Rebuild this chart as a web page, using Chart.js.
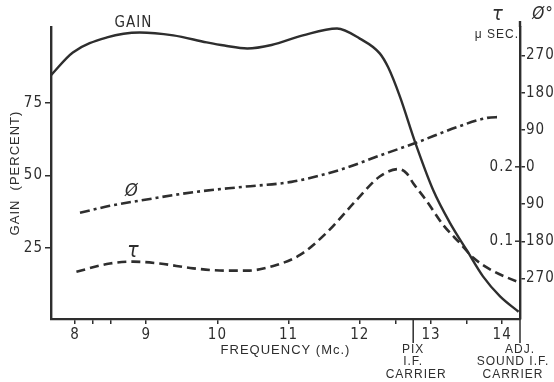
<!DOCTYPE html>
<html><head><meta charset="utf-8">
<script src="https://cdn.jsdelivr.net/npm/chart.js@4/dist/chart.umd.min.js"></script>
<style>html,body{margin:0;padding:0;background:#fff}#wrap{width:554px;height:382px}</style>
</head><body><div id="wrap"><canvas id="c" width="554" height="382"></canvas></div>
<script>
// ---- data ----
const gainFreq    = [7.66, 7.97, 8.45, 8.91, 9.38, 9.85, 10.1, 10.42, 10.76, 11.2, 11.68, 12.0, 12.28, 12.4, 12.565, 12.775, 13.03, 13.27, 13.5, 13.73, 13.97, 14.23];
const gainPercent = [84.5, 92.4, 97.6, 99.3, 98.3, 95.9, 94.8, 93.8, 95.0, 98.3, 100.7, 97.2, 92.1, 87.2, 77.1, 61.6, 45.0, 33.5, 24.3, 15.2, 8.3, 3.0];

const phaseFreq = [8.07, 8.49, 8.96, 9.66, 10.36, 11.04, 11.72, 12.3, 12.78, 13.37, 13.79, 13.97];
const phaseDeg  = [-111, -94, -80, -61, -48, -36, -7, 29, 58, 97, 119, 121];

const tauFreq = [8.02, 8.49, 8.82, 9.19, 9.66, 10.13, 10.41, 10.83, 11.16, 11.53, 11.96, 12.28, 12.55, 12.66, 12.75, 12.94, 13.17, 13.41, 13.59, 13.87, 14.25];
const tauUsec = [0.059, 0.070, 0.0725, 0.070, 0.0635, 0.0604, 0.0604, 0.068, 0.0815, 0.111, 0.156, 0.187, 0.197, 0.191, 0.178, 0.154, 0.122, 0.097, 0.078, 0.060, 0.044];

const xTickValues     = [8, 8.25, 8.5, 9, 10, 11, 12, 12.5, 13, 13.5, 14];
const gainTickValues  = [25, 50, 75];
const phaseTickValues = [-270, -180, -90, 0, 90, 180, 270];
const tauTickValues   = [0.1, 0.2];
const pixCarrier = 12.75;
const adjSoundCarrier = 14.25;

const INK = '#2e2e2e';
const FONT = "'Liberation Sans Narrow', 'DejaVu Sans Condensed', 'Liberation Sans', sans-serif";
const FONT_W = "'Liberation Sans', 'DejaVu Sans', sans-serif";

const pairs = (xs, ys) => xs.map((x, i) => ({x, y: ys[i]}));

const spacing = {
  id: 'spacing',
  beforeDraw(chart) { chart.ctx.letterSpacing = '1px'; }
};

const annot = {
  id: 'annot',
  afterDraw(chart) {
    const {ctx, chartArea, scales} = chart;
    const x = scales.x, yG = scales.y, yP = scales.yPhase, yT = scales.yTau;
    ctx.save();
    ctx.strokeStyle = INK; ctx.fillStyle = INK; ctx.lineWidth = 2.4;
    // right axis extends a little above the plot
    ctx.beginPath(); ctx.moveTo(chartArea.right, chartArea.top); ctx.lineTo(chartArea.right, chartArea.top - 6); ctx.stroke();
    // carrier markers
    ctx.lineWidth = 1.5;
    [pixCarrier, adjSoundCarrier].forEach(f => {
      const px = x.getPixelForValue(f);
      ctx.beginPath(); ctx.moveTo(px, chartArea.bottom); ctx.lineTo(px, chartArea.bottom + 24); ctx.stroke();
    });
    // tau ticks (inner side of the right axis)
    tauTickValues.forEach(v => {
      const py = yT.getPixelForValue(v);
      ctx.beginPath(); ctx.moveTo(chartArea.right - 5, py); ctx.lineTo(chartArea.right, py); ctx.stroke();
    });
    ctx.letterSpacing = '1px';
    ctx.textAlign = 'center'; ctx.textBaseline = 'middle';
    ctx.font = '15px ' + FONT;
    ctx.fillText('GAIN', x.getPixelForValue(8.82), yG.getPixelForValue(102.6));
    ctx.font = 'italic 18px ' + FONT;
    ctx.fillText('Ø', x.getPixelForValue(8.8), yP.getPixelForValue(-60));
    ctx.font = 'italic 21px ' + FONT;
    ctx.fillText('τ', x.getPixelForValue(8.82), yT.getPixelForValue(0.086));
    // right axis headers
    ctx.font = 'italic 20px ' + FONT;
    ctx.fillText('τ', chartArea.right - 22, 15);
    ctx.font = 'italic 17px ' + FONT;
    ctx.fillText('Ø°', chartArea.right + 23, 15);
    ctx.font = '12px ' + FONT_W;
    ctx.textAlign = 'right';
    ctx.fillText('μ SEC.', chartArea.right - 1, 35);
    // carrier labels
    ctx.textAlign = 'center';
    ctx.font = '12px ' + FONT_W;
    const px1 = x.getPixelForValue(pixCarrier);
    ctx.fillText('PIX', px1, 350);
    ctx.fillText('I.F.', px1, 362);
    ctx.fillText('CARRIER', px1 + 3, 375);
    const px2 = x.getPixelForValue(adjSoundCarrier);
    ctx.fillText('ADJ.', px2, 350);
    ctx.fillText('SOUND I.F.', px2 - 7, 362);
    ctx.fillText('CARRIER', px2 - 7, 375);
    ctx.restore();
  }
};

new Chart(document.getElementById('c'), {
  type: 'line',
  data: {
    datasets: [
      { label: 'GAIN', data: pairs(gainFreq, gainPercent), yAxisID: 'y',
        borderColor: INK, borderWidth: 2.4, pointRadius: 0, cubicInterpolationMode: 'monotone', fill: false },
      { label: 'Ø', data: pairs(phaseFreq, phaseDeg), yAxisID: 'yPhase',
        borderColor: INK, borderWidth: 2.6, borderDash: [10, 4, 3, 4], pointRadius: 0, cubicInterpolationMode: 'monotone', fill: false },
      { label: 'τ', data: pairs(tauFreq, tauUsec), yAxisID: 'yTau',
        borderColor: INK, borderWidth: 2.6, borderDash: [9, 5], pointRadius: 0, cubicInterpolationMode: 'monotone', fill: false }
    ]
  },
  options: {
    responsive: false, animation: false, devicePixelRatio: 1,
    layout: { padding: { top: 27, left: 0, right: 0, bottom: 0 } },
    plugins: { legend: { display: false }, tooltip: { enabled: false } },
    scales: {
      x: {
        type: 'linear', position: 'bottom', min: 7.663, max: 14.25,
        afterBuildTicks: s => { s.ticks = xTickValues.map(v => ({value: v})); },
        afterFit: s => { s.height = 63; },
        grid: { drawOnChartArea: false, drawTicks: true, tickLength: 5, color: INK, lineWidth: 1.5 },
        border: { display: true, color: INK, width: 2.2 },
        ticks: { autoSkip: false, maxRotation: 0, padding: 2, color: INK, font: { family: FONT, size: 15 },
                 callback: v => Number.isInteger(v) ? String(v) : '' },
        title: { display: true, text: 'FREQUENCY (Mc.)', color: INK, font: { family: FONT_W, size: 13 }, padding: { top: 0, bottom: 24 } }
      },
      y: {
        position: 'left', min: 0.5, max: 101.2,
        afterBuildTicks: s => { s.ticks = gainTickValues.map(v => ({value: v})); },
        afterFit: s => { s.width = 51; },
        grid: { drawOnChartArea: false, drawTicks: true, tickLength: 6, color: INK, lineWidth: 1.5 },
        border: { display: true, color: INK, width: 2.4 },
        ticks: { padding: 2, color: INK, font: { family: FONT, size: 15 } },
        title: { display: true, text: 'GAIN  (PERCENT)', color: INK, font: { family: FONT_W, size: 13 }, padding: { top: 8, bottom: 0 } }
      },
      yTau: {
        position: 'right', weight: 0, min: -0.0046, max: 0.388,
        afterBuildTicks: s => { s.ticks = tauTickValues.map(v => ({value: v})); },
        afterFit: s => { s.width = 0; },
        grid: { display: false },
        border: { display: false },
        ticks: { mirror: true, padding: -6, color: INK, font: { family: FONT, size: 15 },
                 callback: v => v.toFixed(1) }
      },
      yPhase: {
        position: 'right', weight: 1, min: -368, max: 339,
        afterBuildTicks: s => { s.ticks = phaseTickValues.map(v => ({value: v})); },
        afterFit: s => { s.width = 34; },
        grid: { drawOnChartArea: false, drawTicks: true, tickLength: 5, color: INK, lineWidth: 1.5 },
        border: { display: true, color: INK, width: 2.4 },
        ticks: { padding: 1, color: INK, font: { family: FONT, size: 15 }, callback: v => String(Math.abs(v)) }
      }
    }
  },
  plugins: [spacing, annot]
});
</script>
</body></html>
